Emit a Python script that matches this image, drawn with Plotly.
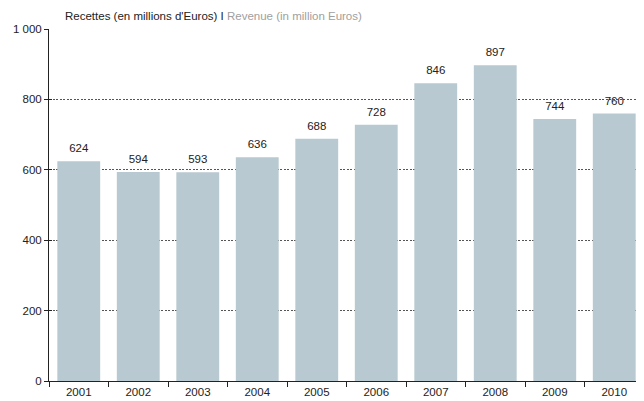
import plotly.graph_objects as go

years = ["2001", "2002", "2003", "2004", "2005", "2006", "2007", "2008", "2009", "2010"]
revenue = [624, 594, 593, 636, 688, 728, 846, 897, 744, 760]
ytick_vals = [0, 200, 400, 600, 800, 1000]
ytick_text = ["0", "200", "400", "600", "800", "1 000"]

font = "Liberation Sans, Arial, sans-serif"
fs = 11.5

fig = go.Figure()
fig.add_trace(go.Bar(
    x=years, y=revenue,
    marker=dict(color="#b9c9d1", line=dict(width=0)),
    width=0.72, hoverinfo="x+y",
))
# value labels above bars
fig.add_trace(go.Scatter(
    x=years, y=revenue, mode="markers+text",
    marker=dict(size=8, color="rgba(0,0,0,0)"),
    text=[str(v) for v in revenue], textposition="top center",
    textfont=dict(size=fs, color="#222", family=font),
    cliponaxis=False, hoverinfo="skip", showlegend=False,
))
# invisible trace for inner ticks on y axis
fig.add_trace(go.Scatter(x=years, y=revenue, yaxis="y2", mode="none",
                         showlegend=False, hoverinfo="skip"))

fig.update_layout(
    width=636, height=393,
    margin=dict(l=41, r=0, t=21, b=20),
    paper_bgcolor="white", plot_bgcolor="white",
    showlegend=False,
    font=dict(family=font, size=fs, color="#222"),
    xaxis=dict(
        type="category", range=[-0.5, 9.5],
        tickson="boundaries", ticks="outside", ticklen=5, tickcolor="#222",
        showline=True, linecolor="#222", linewidth=1,
        showgrid=False, tickfont=dict(size=fs, color="#222"),
    ),
    yaxis=dict(
        range=[0, 1000], tickvals=ytick_vals, ticktext=ytick_text,
        ticks="outside", ticklen=4, tickcolor="#222",
        showline=True, linecolor="#222", linewidth=1,
        showgrid=True, gridcolor="#555", griddash="2px,1.5px", gridwidth=1,
        zeroline=False, tickfont=dict(size=fs, color="#222"),
    ),
    yaxis2=dict(
        overlaying="y", side="left", range=[0, 1000], tickvals=ytick_vals,
        ticks="inside", ticklen=3, tickcolor="#222", showticklabels=False,
        showgrid=False, zeroline=False, showline=False,
    ),
    annotations=[dict(
        text="Recettes (en millions d'Euros) I <span style='color:#a0a0a0'>Revenue (in million Euros)</span>",
        xref="paper", yref="paper", x=0.0235, y=1, yshift=5, xanchor="left", yanchor="bottom",
        showarrow=False, font=dict(size=fs, color="#222", family=font),
    )],
)

fig.write_html("out.html")
